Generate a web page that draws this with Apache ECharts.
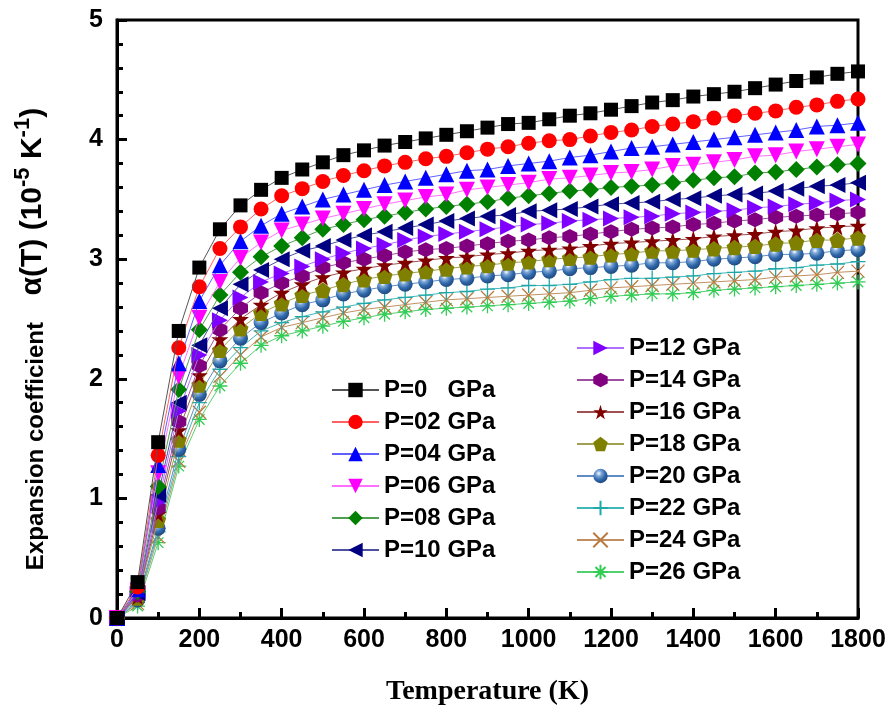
<!DOCTYPE html>
<html><head><meta charset="utf-8">
<script src="https://cdn.jsdelivr.net/npm/echarts@6/dist/echarts.min.js"></script>
<style>html,body{margin:0;padding:0;background:#fff}#c{width:892px;height:712px}</style>
</head><body><div id="c"></div>
<script>
var T = [0,50,100,150,200,250,300,350,400,450,500,550,600,650,700,750,800,850,900,950,1000,1050,1100,1150,1200,1250,1300,1350,1400,1450,1500,1550,1600,1650,1700,1750,1800];
var xTicks = [0,200,400,600,800,1000,1200,1400,1600,1800];
var yTicks = [0,1,2,3,4,5];
var names = ['P=0   GPa','P=02 GPa','P=04 GPa','P=06 GPa','P=08 GPa','P=10 GPa','P=12 GPa','P=14 GPa','P=16 GPa','P=18 GPa','P=20 GPa','P=22 GPa','P=24 GPa','P=26 GPa'];
var p0  = [0,0.30,1.47,2.40,2.93,3.25,3.45,3.58,3.68,3.75,3.81,3.87,3.91,3.95,3.98,4.01,4.04,4.07,4.10,4.13,4.14,4.17,4.20,4.22,4.25,4.28,4.31,4.33,4.36,4.38,4.40,4.43,4.46,4.49,4.52,4.55,4.57];
var p2  = [0,0.26,1.36,2.26,2.77,3.09,3.27,3.42,3.53,3.59,3.65,3.70,3.74,3.78,3.81,3.84,3.86,3.89,3.92,3.94,3.97,3.99,4.00,4.03,4.06,4.08,4.11,4.13,4.15,4.18,4.20,4.22,4.24,4.27,4.29,4.32,4.34];
var p4  = [0,0.24,1.28,2.13,2.65,2.95,3.15,3.28,3.38,3.44,3.50,3.54,3.58,3.62,3.65,3.68,3.71,3.74,3.75,3.78,3.80,3.82,3.85,3.87,3.90,3.93,3.94,3.96,3.98,4.00,4.02,4.04,4.06,4.08,4.11,4.12,4.14];
var p6  = [0,0.23,1.21,2.02,2.51,2.81,3.01,3.14,3.24,3.29,3.34,3.38,3.42,3.46,3.49,3.52,3.54,3.58,3.60,3.62,3.64,3.67,3.68,3.70,3.72,3.73,3.75,3.78,3.79,3.81,3.83,3.86,3.87,3.90,3.92,3.94,3.96];
var p8  = [0,0.22,1.10,1.91,2.41,2.70,2.89,3.02,3.11,3.18,3.25,3.29,3.33,3.36,3.39,3.42,3.44,3.46,3.48,3.51,3.53,3.55,3.57,3.58,3.60,3.61,3.62,3.64,3.66,3.68,3.69,3.72,3.73,3.75,3.77,3.79,3.80];
var p10 = [0,0.21,1.03,1.80,2.28,2.59,2.79,2.91,3.00,3.07,3.11,3.16,3.20,3.23,3.26,3.29,3.32,3.34,3.36,3.37,3.40,3.41,3.42,3.44,3.46,3.47,3.48,3.50,3.51,3.53,3.54,3.55,3.57,3.59,3.61,3.62,3.64];
var p12 = [0,0.20,0.97,1.73,2.20,2.49,2.68,2.81,2.88,2.94,3.00,3.05,3.09,3.12,3.16,3.19,3.21,3.23,3.25,3.27,3.29,3.30,3.32,3.33,3.34,3.35,3.36,3.38,3.39,3.40,3.41,3.43,3.44,3.46,3.47,3.49,3.50];
var p14 = [0,0.19,0.92,1.64,2.11,2.41,2.59,2.72,2.80,2.86,2.93,2.97,3.00,3.03,3.06,3.08,3.09,3.11,3.13,3.15,3.16,3.18,3.19,3.21,3.23,3.25,3.26,3.27,3.29,3.30,3.32,3.33,3.35,3.36,3.37,3.38,3.39];
var p16 = [0,0.18,0.87,1.57,2.03,2.33,2.50,2.62,2.72,2.79,2.85,2.89,2.92,2.95,2.97,2.99,3.01,3.02,3.04,3.05,3.07,3.08,3.09,3.11,3.13,3.14,3.15,3.16,3.17,3.19,3.20,3.21,3.23,3.24,3.26,3.27,3.28];
var p18 = [0,0.17,0.82,1.49,1.95,2.24,2.42,2.55,2.63,2.70,2.74,2.79,2.83,2.86,2.88,2.90,2.92,2.94,2.95,2.97,2.98,3.00,3.01,3.02,3.04,3.05,3.07,3.07,3.08,3.09,3.10,3.11,3.13,3.14,3.16,3.16,3.18];
var p20 = [0,0.15,0.75,1.41,1.87,2.15,2.34,2.47,2.55,2.62,2.66,2.71,2.74,2.77,2.79,2.81,2.83,2.84,2.86,2.87,2.89,2.90,2.92,2.93,2.94,2.95,2.97,2.97,2.98,3.00,3.01,3.02,3.04,3.04,3.05,3.07,3.08];
var p22 = [0,0.13,0.72,1.35,1.80,2.08,2.26,2.40,2.47,2.52,2.56,2.60,2.63,2.66,2.68,2.70,2.72,2.73,2.75,2.76,2.78,2.78,2.79,2.81,2.83,2.84,2.84,2.85,2.86,2.88,2.89,2.90,2.92,2.93,2.95,2.96,2.98];
var p24 = [0,0.12,0.68,1.31,1.72,2.02,2.20,2.35,2.43,2.47,2.51,2.55,2.58,2.60,2.62,2.64,2.66,2.67,2.68,2.69,2.70,2.71,2.72,2.74,2.76,2.77,2.78,2.79,2.80,2.81,2.82,2.83,2.85,2.86,2.87,2.89,2.90];
var p26 = [0,0.10,0.63,1.27,1.66,1.94,2.13,2.28,2.36,2.40,2.44,2.48,2.51,2.54,2.56,2.58,2.59,2.60,2.61,2.62,2.63,2.64,2.65,2.67,2.69,2.70,2.71,2.71,2.72,2.74,2.75,2.76,2.77,2.78,2.79,2.80,2.81];

var values = [p0,p2,p4,p6,p8,p10,p12,p14,p16,p18,p20,p22,p24,p26];
var ball = new echarts.graphic.RadialGradient(0.38,0.32,0.75,[{offset:0,color:'#ffffff'},{offset:0.25,color:'#7fa8d8'},{offset:0.6,color:'#2f68aa'},{offset:1,color:'#1c4277'}]);
var styles = [
  {c:'#000000', l:'#555555', s:'rect', z:14},
  {c:'#ff0000', l:'#ff6060', s:'circle', z:15},
  {c:'#0000ff', l:'#6060ff', s:'triangle', z:16},
  {c:'#ff00ff', l:'#ff70ff', s:'path://M0,0L100,0L50,90Z', z:16},
  {c:'#008000', l:'#50a050', s:'diamond', z:17},
  {c:'#000080', l:'#5050a0', s:'path://M90,0L90,100L0,50Z', z:16},
  {c:'#8000ff', l:'#b070ff', s:'path://M0,0L0,100L90,50Z', z:16},
  {c:'#800080', l:'#a050a0', s:'path://M50,0L93.3,25L93.3,75L50,100L6.7,75L6.7,25Z', z:15},
  {c:'#800000', l:'#a05050', s:'path://M50,0L61,35L98,35L68,57L79,91L50,70L21,91L32,57L2,35L39,35Z', z:17},
  {c:'#808000', l:'#a0a050', s:'path://M50,0L100,38L81,100L19,100L0,38Z', z:16},
  {c:ball, l:'#5f8cc4', s:'circle', z:15},
  {c:'#20a8a8', l:'#40b8b8', s:'path://M50,0L50,100M0,50L100,50', z:15, stroke:true},
  {c:'#b87a40', l:'#c09060', s:'path://M0,0L100,100M100,0L0,100', z:13, stroke:true},
  {c:'#33cc55', l:'#55d070', s:'path://M50,0L50,100M0,50L100,50M15,15L85,85M85,15L15,85', z:15, stroke:true}
];

var series = names.map(function(n,i){
  var st = styles[i];
  var itemStyle = st.stroke ? {color:'rgba(255,255,255,0)', borderColor:st.c, borderWidth:1.3} : {color:st.c};
  return {
    name:n, type:'line', data:T.map(function(t,k){return [t, values[i][k]];}),
    symbol:st.s, symbolSize:st.z, showSymbol:true,
    lineStyle:{color:st.l, width:1}, itemStyle:itemStyle,
    z: 20 - i, animation:false
  };
});

var lab = {fontFamily:'Liberation Sans', fontWeight:'bold', fontSize:24, color:'#000', lineHeight:24};
var chart = echarts.init(document.getElementById('c'), null, {renderer:'canvas'});
chart.setOption({
  animation:false,
  backgroundColor:'#fff',
  grid:{left:117, right:34, top:20, bottom:94, show:true, borderColor:'#000', borderWidth:3, backgroundColor:'transparent'},
  xAxis:{type:'value', min:0, max:1800, interval:200,
    axisLine:{show:true, lineStyle:{color:'#000', width:3}},
    axisTick:{show:true, inside:true, length:10, lineStyle:{color:'#000', width:3}},
    minorTick:{show:true, splitNumber:2, length:6, lineStyle:{color:'#000', width:3}},
    splitLine:{show:false},
    axisLabel:{margin:10, fontFamily:'Liberation Sans', fontWeight:'bold', fontSize:25, color:'#000',
      formatter:function(v){return xTicks.indexOf(v)>=0 ? String(v) : '';}},
    name:'Temperature (K)', nameLocation:'middle', nameGap:60,
    nameTextStyle:{fontFamily:'Liberation Serif', fontWeight:'bold', fontSize:28, color:'#000'}
  },
  yAxis:{type:'value', min:0, max:5, interval:1,
    axisLine:{show:true, lineStyle:{color:'#000', width:3}},
    axisTick:{show:true, inside:true, length:10, lineStyle:{color:'#000', width:3}},
    minorTick:{show:true, splitNumber:5, length:6, lineStyle:{color:'#000', width:3}},
    splitLine:{show:false},
    axisLabel:{margin:14, fontFamily:'Liberation Sans', fontWeight:'bold', fontSize:25, color:'#000',
      formatter:function(v){return yTicks.indexOf(v)>=0 ? String(v) : '';}},
    name:'{n|Expansion coefficient    }{m|α(T) (10}{s|-5}{m| K}{s|-1}{m|)}', nameLocation:'middle', nameGap:69, nameRotate:90,
    nameTextStyle:{padding:[0,40,0,0], rich:{
      n:{fontFamily:'Liberation Sans', fontWeight:'bold', fontSize:24, color:'#000', lineHeight:36, verticalAlign:'bottom'},
      m:{fontFamily:'Liberation Sans', fontWeight:'bold', fontSize:30, color:'#000', lineHeight:36, verticalAlign:'bottom'},
      s:{fontFamily:'Liberation Sans', fontWeight:'bold', fontSize:22, color:'#000', lineHeight:20, verticalAlign:'top'}
    }}
  },
  legend:[
    {data:names.slice(0,6), orient:'vertical', left:326, top:373, itemWidth:47, itemHeight:18, itemGap:8,
     textStyle:lab, selectedMode:false},
    {data:names.slice(6), orient:'vertical', left:571, top:331, itemWidth:47, itemHeight:18, itemGap:8,
     textStyle:lab, selectedMode:false}
  ],
  series:series
});
</script></body></html>
